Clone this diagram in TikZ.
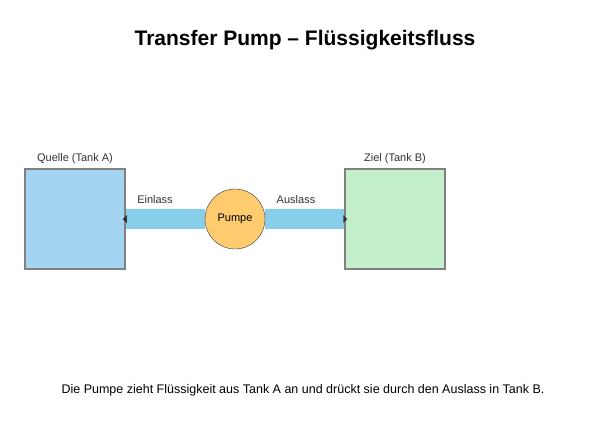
\documentclass[tikz,border=0pt]{standalone}
\usepackage{fontspec}
\setmainfont{Liberation Sans}
\begin{document}
\begin{tikzpicture}[x=1pt,y=-1pt,
  tank/.style={draw=black!50,line width=1.5pt,minimum width=100pt,minimum height=100pt,inner sep=0pt},
  lbl/.style={font=\fontsize{11}{13}\selectfont,text=black!80},
  pipe/.style={draw=none,fill=pipec}]
\definecolor{tanka}{HTML}{A3D5F2}
\definecolor{tankb}{HTML}{C4EFCB}
\definecolor{pipec}{HTML}{87CEEB}
\definecolor{pumpc}{HTML}{FECB6E}
\useasboundingbox (0,0) rectangle (615,421);
\node[font=\bfseries\fontsize{21}{24}\selectfont] (title) at (305,40) {Transfer Pump -- Flüssigkeitsfluss};
\fill[pipec] (125,209) rectangle (205,229);
\fill[pipec] (265,209) rectangle (345,229);
\node[tank,fill=tanka] (A) at (75,219) {};
\node[tank,fill=tankb] (B) at (395,219) {};
\node[circle,draw=black!80,fill=pumpc,minimum size=60pt,inner sep=0pt,font=\fontsize{11}{13}\selectfont] (P) at (235,219) {Pumpe};
\fill[black!80] (A.east) ++(-3,0) -- ++(4,-4) -- ++(0,8) -- cycle;
\fill[black!80] (B.west) ++(3,0) -- ++(-4,-4) -- ++(0,8) -- cycle;
\node[lbl,above=1pt] (la) at (A.north) {Quelle (Tank A)};
\node[lbl,above=1pt] (lb) at (B.north) {Ziel (Tank B)};
\node[lbl] (ein) at (155,200) {Einlass};
\node[lbl] (aus) at (296,200) {Auslass};
\node[font=\fontsize{12.5}{15}\selectfont] (cap) at (303,390) {Die Pumpe zieht Flüssigkeit aus Tank A an und drückt sie durch den Auslass in Tank B.};
\end{tikzpicture}
\end{document}
